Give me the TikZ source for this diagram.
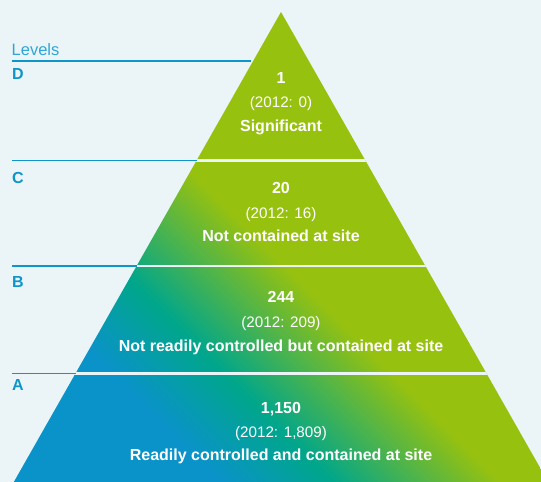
\documentclass[tikz,border=0pt]{standalone}
\usepackage{fontspec}
\setmainfont{Liberation Sans}
\definecolor{bgcol}{HTML}{EBF5F8}
\definecolor{pyrblue}{HTML}{0A93C8}
\definecolor{pyrteal}{HTML}{00A68B}
\definecolor{pyrgreen}{HTML}{97C10F}
\definecolor{lvlblue}{HTML}{0E95C9}
\definecolor{lvllight}{HTML}{2FA6D5}
\pgfdeclareverticalshading{pyrshade}{100bp}{color(0bp)=(pyrblue); color(31bp)=(pyrblue); color(38bp)=(pyrteal); color(48.7bp)=(pyrgreen); color(100bp)=(pyrgreen)}
\tikzset{
  levelline/.style={draw=lvlblue, line width=1.1pt},
  gapline/.style={draw=bgcol, line width=2.6pt},
  letterlbl/.style={anchor=base west, inner sep=0pt, text=lvlblue, font=\fontsize{16}{16}\selectfont\bfseries},
  numlbl/.style={anchor=base, inner sep=0pt, text=white, font=\fontsize{16}{16}\selectfont\bfseries},
  yearlbl/.style={anchor=base, inner sep=0pt, text=white, font=\fontsize{15.2}{16}\selectfont},
  desclbl/.style={anchor=base, inner sep=0pt, text=white, font=\fontsize{16}{16}\selectfont\bfseries}
}
\begin{document}
\begin{tikzpicture}[x=1pt,y=1pt]
\fill[bgcol] (0,0) rectangle (541,482);
\useasboundingbox (0,0) rectangle (541,482);
\coordinate (apex) at (281,470);
\coordinate (bl) at (13.8,0);
\coordinate (br) at (548.2,0);
\begin{scope}
  \clip (apex) -- (br) -- (bl) -- cycle;
  \shade[shading=pyrshade, shading angle=-45] (1,-39) rectangle (561,521);
  \draw[gapline] (150,321.3) -- (420,321.3);
  \draw[gapline] (100,216) -- (470,216);
  \draw[gapline] (40,108.7) -- (560,108.7);
\end{scope}
% level lines on the left
\draw[levelline] (12,421) -- (250.5,421);
\draw[levelline] (12,321.3) -- (196.5,321.3);
\draw[levelline] (12,216) -- (136.6,216);
\draw[levelline] (12,108.7) -- (75.6,108.7);
% labels on the left
\node[anchor=base west, inner sep=0pt, text=lvllight, font=\fontsize{16.5}{16}\selectfont] (levels) at (11.5,426.5) {Levels};
\node[letterlbl] (lD) at (12,402) {D};
\node[letterlbl] (lC) at (12,298.3) {C};
\node[letterlbl] (lB) at (12,194.3) {B};
\node[letterlbl] (lA) at (12,91.3) {A};
% level D
\node[numlbl] (nD) at (281,398.3) {1};
\node[yearlbl] (yD) at (281,374.6) {(2012: 0)};
\node[desclbl] (dD) at (281,350.3) {Significant};
% level C
\node[numlbl] (nC) at (281,288) {20};
\node[yearlbl] (yC) at (281,263.3) {(2012: 16)};
\node[desclbl] (dC) at (281,240.3) {Not contained at site};
% level B
\node[numlbl] (nB) at (281,179.3) {244};
\node[yearlbl] (yB) at (281,154.6) {(2012: 209)};
\node[desclbl] (dB) at (281,130.3) {Not readily controlled but contained at site};
% level A
\node[numlbl] (nA) at (281,68.1) {1,150};
\node[yearlbl] (yA) at (281,44.6) {(2012: 1,809)};
\node[desclbl] (dA) at (281,21.1) {Readily controlled and contained at site};
\end{tikzpicture}
\end{document}
